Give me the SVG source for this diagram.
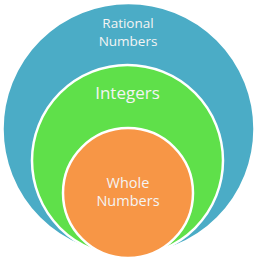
<svg xmlns="http://www.w3.org/2000/svg" width="258" height="259" viewBox="0 0 258 259">
<style>
.c{stroke:#ffffff;stroke-width:2.5}
.t{font-family:"Open Sans","Liberation Sans",sans-serif;fill:#f4f4f4;text-anchor:middle}
</style>
<rect width="258" height="259" fill="#ffffff"/>
<g id="rational">
<circle class="c" cx="128.5" cy="129" r="126" fill="#4BACC6"/>
<text class="t" x="128" y="28" font-size="13.5">Rational</text>
<text class="t" x="128" y="46" font-size="13.5">Numbers</text>
</g>
<g id="integers">
<circle class="c" cx="127.5" cy="160.5" r="95.5" fill="#5FE04A"/>
<text class="t" x="127.5" y="99" font-size="17">Integers</text>
</g>
<g id="whole">
<circle class="c" cx="128" cy="193" r="65" fill="#F79646"/>
<text class="t" x="128" y="188" font-size="14.5">Whole</text>
<text class="t" x="128" y="206" font-size="14.5">Numbers</text>
</g>
<g id="connectors"/>
</svg>
